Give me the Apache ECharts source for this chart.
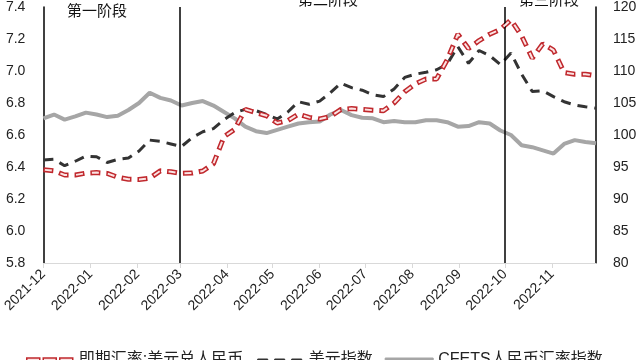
<!DOCTYPE html>
<html>
<head>
<meta charset="utf-8">
<style>
  html, body { margin: 0; padding: 0; background: #fff; }
  #chart { width: 640px; height: 360px; }
</style>
<script src="https://cdn.jsdelivr.net/npm/echarts@6/dist/echarts.min.js"></script>
</head>
<body>
<div id="chart"></div>
<script>
// ---- axis categories: every day from 2021-12-01 to 2022-11-30 ----
const days = [];
for (let t = Date.UTC(2021, 11, 1); t <= Date.UTC(2022, 10, 30); t += 86400000) {
  days.push(new Date(t).toISOString().slice(0, 10));
}
// weekly observation dates (every 7th day)
const weeks = days.filter((d, i) => i % 7 === 0);

// ---- series values ----
const usdcny = [6.383, 6.376, 6.350, 6.350, 6.362, 6.365, 6.360, 6.336, 6.323, 6.322,
  6.330, 6.376, 6.370, 6.360, 6.362, 6.375, 6.420, 6.590, 6.635, 6.760,
  6.740, 6.720, 6.675, 6.690, 6.730, 6.710, 6.700, 6.715, 6.760, 6.765,
  6.760, 6.755, 6.752, 6.800, 6.870, 6.920, 6.950, 6.950, 7.070, 7.230,
  7.140, 7.190, 7.230, 7.260, 7.320, 7.220, 7.080, 7.170, 7.130, 6.990,
  6.980, 6.980, 6.970];
const dxy = [96.1, 96.2, 95.2, 95.9, 96.7, 96.6, 95.7, 96.2, 96.4, 97.5,
  99.2, 99.0, 98.6, 98.2, 99.6, 100.5, 101.0, 102.4, 103.5, 104.0,
  103.8, 103.2, 102.5, 103.6, 105.2, 104.8, 105.3, 106.6, 108.1, 107.4,
  107.0, 106.3, 106.0, 107.2, 109.0, 109.5, 109.8, 110.2, 111.1, 113.8,
  111.2, 113.2, 112.4, 111.0, 112.8, 109.5, 106.8, 106.9, 106.0, 105.2,
  104.7, 104.4, 104.2];
const cfets = [102.6, 103.2, 102.4, 102.9, 103.5, 103.2, 102.8, 103.0, 103.9, 105.0,
  106.6, 105.8, 105.4, 104.6, 105.0, 105.3, 104.6, 103.6, 102.6, 101.3,
  100.6, 100.3, 100.8, 101.3, 101.8, 102.0, 102.1, 103.2, 103.9, 103.1,
  102.7, 102.6, 102.0, 102.2, 102.0, 102.0, 102.3, 102.3, 102.0, 101.3,
  101.4, 102.0, 101.8, 100.7, 100.0, 98.4, 98.1, 97.6, 97.1, 98.6,
  99.2, 98.9, 98.7];

const seriesNames = ['即期汇率:美元兑人民币', '美元指数', 'CFETS人民币汇率指数'];
const phaseLabels = ['第一阶段', '第二阶段', '第三阶段'];
const phaseBreaks = ['2022-03-01', '2022-10-01'];

const pairs = arr => weeks.map((d, i) => [d, arr[i]]);
const isMonthStart = (idx, val) => val.slice(8) === '01';

// legend icon shapes (zero-length moves fix the icon box to 48x12)
const BOX = 'M0,0L0,0M48,12L48,12';
const ICON_RED = 'path://' + BOX + 'M1,4h13v8h-13zM17.5,4h13v8h-13zM34,4h13v8h-13z';
const ICON_BLACK = 'path://' + BOX + 'M2,5h10v3h-10zM19,5h10v3h-10zM36,5h10v3h-10z';
const ICON_GRAY = 'path://' + BOX + 'M0,4h48v5h-48z';

const FONT = '"Liberation Sans", "Noto Sans CJK SC", sans-serif';
const chart = echarts.init(document.getElementById('chart'));

chart.setOption({
  animation: false,
  textStyle: { fontFamily: FONT },
  grid: { left: 41, right: 44, top: 5, bottom: 97 },
  legend: {
    data: [
      { name: seriesNames[0], icon: ICON_RED, itemStyle: { color: '#fbe3e3', borderColor: '#c0282d', borderWidth: 1.5 } },
      { name: seriesNames[1], icon: ICON_BLACK, itemStyle: { color: '#333', borderColor: '#333', borderWidth: 1 } },
      { name: seriesNames[2], icon: ICON_GRAY, itemStyle: { color: '#a6a6a6', borderColor: '#a6a6a6', borderWidth: 1 } }
    ],
    left: 20, top: 347,
    itemWidth: 48, itemHeight: 12, itemGap: 12,
    textStyle: { fontSize: 16, color: '#222', fontFamily: FONT }
  },
  graphic: [
    { type: 'text', left: 67, top: 4, style: { text: phaseLabels[0], fill: '#111', font: '15px ' + FONT } },
    { type: 'text', left: 298, top: -7, style: { text: phaseLabels[1], fill: '#111', font: '15px ' + FONT } },
    { type: 'text', left: 519, top: -7, style: { text: phaseLabels[2], fill: '#111', font: '15px ' + FONT } }
  ],
  xAxis: {
    type: 'category',
    data: days,
    boundaryGap: false,
    axisLine: { lineStyle: { color: '#d9d9d9', width: 1 } },
    axisTick: { show: true, interval: isMonthStart, length: 5, lineStyle: { color: '#d9d9d9' } },
    axisLabel: {
      interval: isMonthStart,
      rotate: 45,
      margin: 9,
      fontSize: 14,
      color: '#222',
      formatter: v => v.slice(0, 7)
    },
    splitLine: { show: false }
  },
  yAxis: [
    {
      type: 'value', min: 5.8, max: 7.4, interval: 0.2,
      axisLine: { show: true, lineStyle: { color: '#000', width: 1.5 } },
      axisTick: { show: false },
      splitLine: { show: false },
      axisLabel: { fontSize: 14, color: '#222', margin: 18, formatter: v => v.toFixed(1) }
    },
    {
      type: 'value', min: 80, max: 120, interval: 5,
      axisLine: { show: true, lineStyle: { color: '#000', width: 1.5 } },
      axisTick: { show: false },
      splitLine: { show: false },
      axisLabel: { fontSize: 14, color: '#222', margin: 17 }
    }
  ],
  series: [
    {
      name: seriesNames[2], type: 'line', yAxisIndex: 1,
      data: pairs(cfets), showSymbol: false, symbol: 'none',
      lineStyle: { color: '#a6a6a6', width: 4 },
      itemStyle: { color: '#a6a6a6' },
      z: 2,
      markLine: {
        silent: true, symbol: 'none', label: { show: false },
        lineStyle: { color: '#000', width: 1.5, type: 'solid' },
        data: phaseBreaks.map(d => ({ xAxis: d }))
      }
    },
    {
      name: seriesNames[1], type: 'line', yAxisIndex: 1,
      data: pairs(dxy), showSymbol: false, symbol: 'none',
      lineStyle: { color: '#333', width: 3, type: [10, 7], cap: 'butt' },
      itemStyle: { color: '#333' },
      z: 3
    },
    {
      name: seriesNames[0], type: 'line', yAxisIndex: 0,
      data: pairs(usdcny), showSymbol: false, symbol: 'none',
      lineStyle: { color: '#c0282d', width: 5, type: [10, 6], cap: 'butt' },
      itemStyle: { color: '#c0282d' },
      z: 4
    },
    {
      name: 'overlay', type: 'line', yAxisIndex: 0,
      data: pairs(usdcny), showSymbol: false, symbol: 'none',
      lineStyle: { color: '#fbe3e3', width: 2, type: [7, 9], dashOffset: -1.5, cap: 'butt' },
      itemStyle: { color: '#fbe3e3' },
      silent: true,
      z: 5
    }
  ]
});
</script>
</body>
</html>
